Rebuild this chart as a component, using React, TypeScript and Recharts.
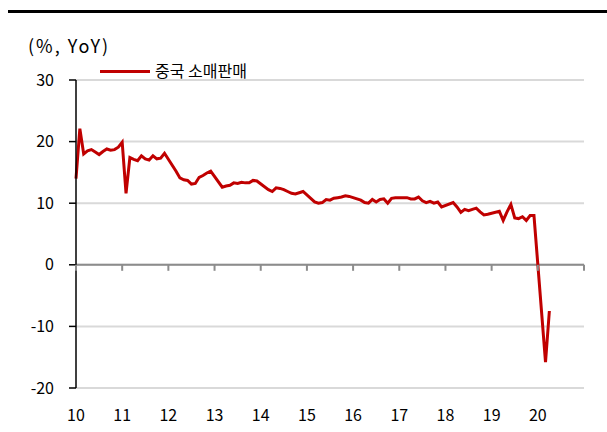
import {
	LineChart,
	Line,
	XAxis,
	YAxis,
	CartesianGrid,
	ReferenceLine,
} from "recharts";

// China retail sales, % YoY. 2010-2011 monthly, from 2012 Mar-Dec (Jan-Feb not published)
const y2010 = [14.0, 22.1, 18.0, 18.5, 18.7, 18.3, 17.9, 18.4, 18.8, 18.6, 18.7, 19.1];
const y2011 = [19.9, 11.6, 17.4, 17.1, 16.9, 17.7, 17.2, 17.0, 17.7, 17.2, 17.3, 18.1];
const y2012 = [15.2, 14.1, 13.8, 13.7, 13.1, 13.2, 14.2, 14.5, 14.9, 15.2];
const y2013 = [12.6, 12.8, 12.9, 13.3, 13.2, 13.4, 13.3, 13.3, 13.7, 13.6];
const y2014 = [12.2, 11.9, 12.5, 12.4, 12.2, 11.9, 11.6, 11.5, 11.7, 11.9];
const y2015 = [10.2, 10.0, 10.1, 10.6, 10.5, 10.8, 10.9, 11.0, 11.2, 11.1];
const y2016 = [10.5, 10.1, 10.0, 10.6, 10.2, 10.6, 10.7, 10.0, 10.8, 10.9];
const y2017 = [10.9, 10.7, 10.7, 11.0, 10.4, 10.1, 10.3, 10.0, 10.2, 9.4];
const y2018 = [10.1, 9.4, 8.5, 9.0, 8.8, 9.0, 9.2, 8.6, 8.1, 8.2];
const y2019 = [8.7, 7.2, 8.6, 9.8, 7.6, 7.5, 7.8, 7.2, 8.0, 8.0];
const y2020 = [-15.8, -7.5];

// [year, first month (0 = Jan), values]
const yearly: [number, number, number[]][] = [
	[2010, 0, y2010],
	[2011, 0, y2011],
	[2012, 2, y2012],
	[2013, 2, y2013],
	[2014, 2, y2014],
	[2015, 2, y2015],
	[2016, 2, y2016],
	[2017, 2, y2017],
	[2018, 2, y2018],
	[2019, 2, y2019],
	[2020, 2, y2020],
];

const yTicks = [-20, -10, 0, 10, 20, 30];
const yearLabels = ["10", "11", "12", "13", "14", "15", "16", "17", "18", "19", "20", ""];

const data = yearly.flatMap(([yr, start, vals]) =>
	vals.map((v, i) => ({ t: (yr - 2010) * 12 + start + i, value: v })),
);
const xTicks = yearLabels.map((_, i) => i * 12);

const FONT = "'Noto Sans CJK KR', 'Noto Sans', sans-serif";
const W = 607;
const H = 432;
const TOP = 80;
const BOTTOM = 44;
const Y_MIN = -20;
const Y_MAX = 30;
const ZERO_Y = TOP + ((H - TOP - BOTTOM) * Y_MAX) / (Y_MAX - Y_MIN);

function YearTick(props: any) {
	const { x, y, payload } = props;
	const label = yearLabels[Math.round(payload.value / 12)];
	return (
		<g>
			<line x1={x} x2={x} y1={ZERO_Y} y2={ZERO_Y + 6} stroke="#8c8c8c" strokeWidth={2} />
			<text x={x} y={y + 33} textAnchor="middle" fill="#000" fontSize={16} fontFamily={FONT}>
				{label}
			</text>
		</g>
	);
}

export default function App() {
	return (
		<div style={{ position: "absolute", left: 0, top: 0, width: W, height: H, background: "#fff", fontFamily: FONT }}>
			<div style={{ position: "absolute", left: 8, top: 10, width: W - 8, height: 3, background: "#000" }} />
			<div style={{ position: "absolute", left: 28, top: 36, fontSize: 18, lineHeight: "18px", letterSpacing: 2, color: "#000" }}>
				(%, YoY)
			</div>
			<div style={{ position: "absolute", left: 100, top: 70, width: 50, height: 3, background: "#c00000" }} />
			<div style={{ position: "absolute", left: 155, top: 62, fontSize: 16, lineHeight: "16px", color: "#000" }}>
				중국 소매판매
			</div>
			<LineChart width={W} height={H} data={data} margin={{ top: TOP, right: 23, left: 0, bottom: 0 }}>
				<CartesianGrid vertical={false} stroke="#d9d9d9" strokeWidth={2} />
				<XAxis
					dataKey="t"
					type="number"
					domain={[0, 132]}
					ticks={xTicks}
					height={BOTTOM}
					axisLine={false}
					tickLine={false}
					tickSize={0}
					tickMargin={0}
					tick={<YearTick />}
					interval={0}
				/>
				<YAxis
					type="number"
					domain={[Y_MIN, Y_MAX]}
					ticks={yTicks}
					width={76}
					axisLine={{ stroke: "#000", strokeWidth: 1.5 }}
					tickLine={{ stroke: "#000", strokeWidth: 1.5 }}
					tickSize={7}
					tickMargin={15}
					tick={{ fill: "#000", fontSize: 16, fontFamily: FONT }}
					interval={0}
				/>
				<ReferenceLine y={0} stroke="#8c8c8c" strokeWidth={2} />
				<Line
					type="linear"
					dataKey="value"
					stroke="#c00000"
					strokeWidth={3}
					dot={false}
					isAnimationActive={false}
				/>
			</LineChart>
		</div>
	);
}
